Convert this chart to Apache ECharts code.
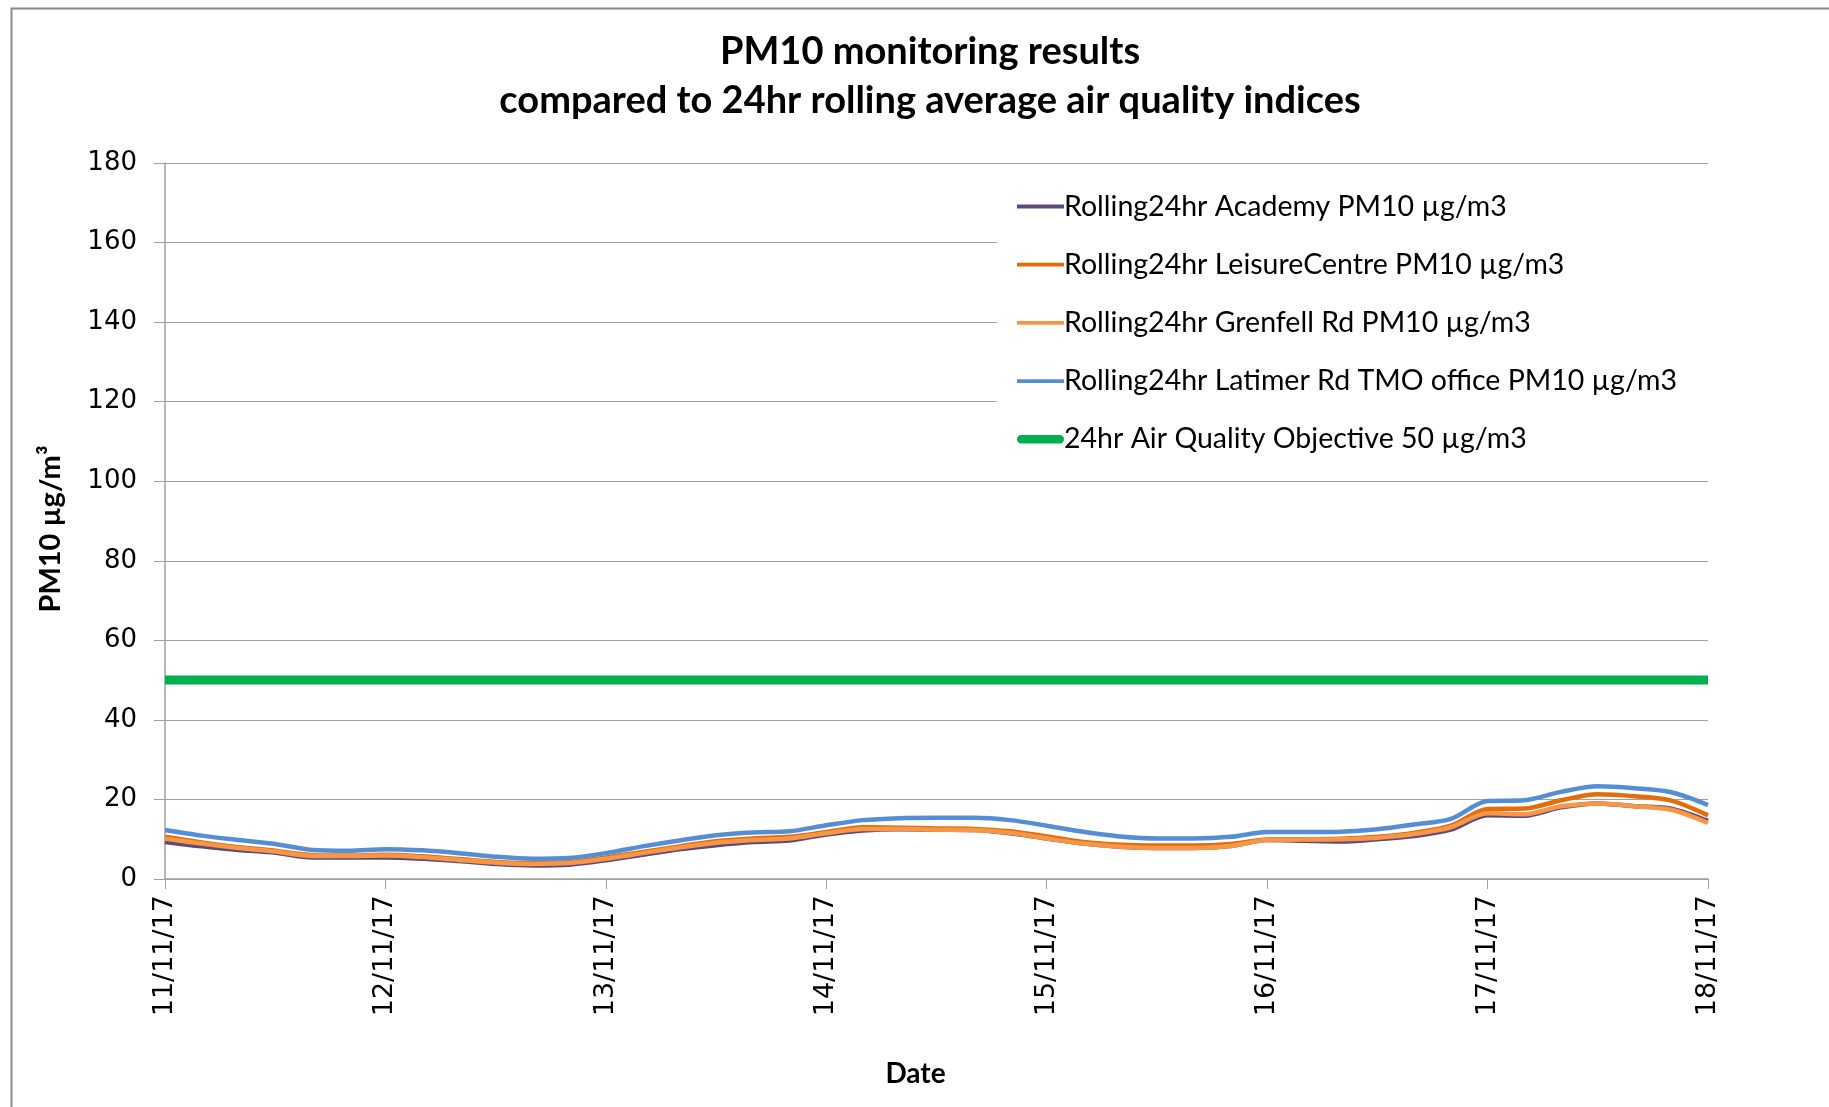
<!DOCTYPE html>
<html>
<head>
<meta charset="utf-8">
<script src="https://cdn.jsdelivr.net/npm/echarts@6/dist/echarts.min.js"></script>
<style>
  html, body { margin: 0; padding: 0; background: #fff; }
  #main { width: 1829px; height: 1107px; }
</style>
</head>
<body>
<div id="main"></div>
<script>
// hours since 11/11/17 00:00, sampled every 4 hours
var hours = [0, 4, 8, 12, 16, 20, 24, 28, 32, 36, 40, 44, 48, 52, 56, 60, 64, 68, 72, 76, 80, 84,
  88, 92, 96, 100, 104, 108, 112, 116, 120, 124, 128, 132, 136, 140, 144, 148, 152, 156, 160, 164, 168];
var dateLabels = ["11/11/17", "12/11/17", "13/11/17", "14/11/17", "15/11/17", "16/11/17", "17/11/17", "18/11/17"];
var yTicks = [0, 20, 40, 60, 80, 100, 120, 140, 160, 180];

var academy = [9.3, 8.2, 7.3, 6.6, 5.4, 5.4, 5.4, 5.1, 4.5, 3.8, 3.4, 3.6, 4.7, 6.1, 7.5, 8.5, 9.3, 9.7, 11.2, 12.2, 12.5, 12.4,
  12.3, 11.5, 10.2, 8.9, 8.1, 7.8, 7.8, 8.3, 9.8, 9.6, 9.4, 10.0, 10.8, 12.4, 16.0, 15.9, 18.0, 19.0, 18.3, 17.7, 14.6];
var leisure = [10.6, 9.2, 8.0, 7.1, 6.0, 5.9, 6.1, 5.7, 5.0, 4.3, 4.0, 4.2, 5.4, 6.8, 8.2, 9.5, 10.2, 10.6, 11.8, 13.0, 12.9, 12.7,
  12.6, 12.0, 10.7, 9.3, 8.6, 8.4, 8.4, 8.8, 9.9, 10.0, 10.1, 10.6, 11.6, 13.4, 17.6, 17.7, 19.8, 21.3, 20.8, 19.7, 16.0];
var grenfell = [10.2, 8.9, 7.8, 6.9, 5.8, 5.8, 5.9, 5.5, 4.8, 4.1, 3.8, 4.0, 5.1, 6.5, 7.9, 9.1, 9.8, 10.2, 11.5, 12.6, 12.6, 12.4,
  12.3, 11.6, 10.2, 8.9, 8.1, 7.8, 7.8, 8.3, 9.8, 9.9, 10.0, 10.4, 11.3, 13.0, 16.5, 16.3, 18.3, 19.0, 18.3, 17.4, 14.1];
var latimer = [12.3, 10.9, 9.8, 8.8, 7.3, 7.1, 7.5, 7.2, 6.5, 5.6, 5.1, 5.3, 6.5, 8.2, 9.7, 11.0, 11.7, 12.0, 13.5, 14.8, 15.3, 15.4,
  15.4, 14.8, 13.4, 11.9, 10.7, 10.2, 10.2, 10.6, 11.8, 11.8, 11.9, 12.5, 13.7, 15.1, 19.6, 19.8, 21.9, 23.3, 22.8, 21.8, 18.6];
var objective = [50, 50];
var objectiveHours = [0, 168];

var names = [
  "Rolling24hr Academy PM10 µg/m3",
  "Rolling24hr LeisureCentre PM10 µg/m3",
  "Rolling24hr Grenfell Rd PM10 µg/m3",
  "Rolling24hr Latimer Rd TMO office PM10 µg/m3",
  "24hr Air Quality Objective 50 µg/m3"
];

function pairs(xs, ys) {
  return xs.map(function (x, i) { return [x, ys[i]]; });
}

var chart = echarts.init(document.getElementById("main"));
var lineSeries = function (name, data, color, width) {
  return {
    name: name,
    type: "line",
    data: data,
    symbol: "none",
    smooth: 0.3,
    lineStyle: { color: color, width: width },
    itemStyle: { color: color },
    z: 2
  };
};

// thin and thick bar shapes for the legend keys
var thinKey = "path://M0,0 L100,0 L100,8 L0,8 Z";
var thickKey = "path://M9,0 L91,0 A9,9 0 0 1 91,18 L9,18 A9,9 0 0 1 9,0 Z";

var option = {
  backgroundColor: "#fff",
  animation: false,
  title: {
    text: "PM10 monitoring results\ncompared to 24hr rolling average air quality indices",
    left: 925,
    top: 22,
    textAlign: "center",
    textStyle: { fontFamily: "Lato", fontWeight: "bold", fontSize: 38, lineHeight: 49, color: "#000" }
  },
  legend: {
    orient: "vertical",
    left: 997,
    top: 174,
    padding: [18, 40, 18, 20],
    backgroundColor: "#fff",
    itemWidth: 47,
    itemHeight: 14,
    itemGap: 29.2,
    textStyle: { fontFamily: "Lato", fontSize: 28.5, lineHeight: 24, color: "#000", padding: [0, 0, 0, -5] },
    data: [
      { name: names[0], icon: thinKey },
      { name: names[1], icon: thinKey },
      { name: names[2], icon: thinKey },
      { name: names[3], icon: thinKey },
      { name: names[4], icon: thickKey }
    ]
  },
  grid: { left: 165, top: 163, width: 1543, height: 716 },
  xAxis: {
    type: "value",
    min: 0,
    max: 168,
    interval: 24,
    name: "Date",
    nameLocation: "middle",
    nameGap: 181,
    nameTextStyle: { fontFamily: "Lato", fontWeight: "bold", fontSize: 28, color: "#000", padding: [0, 42, 0, 0] },
    axisLine: { lineStyle: { color: "#a0a0a0", width: 1.5 } },
    axisTick: { show: true, length: 10, lineStyle: { color: "#a0a0a0" } },
    splitLine: { show: false },
    axisLabel: {
      rotate: 90,
      margin: 16,
      fontFamily: "DejaVu Sans",
      fontSize: 27,
      color: "#000",
      formatter: function (v) { return dateLabels[Math.round(v / 24)]; }
    }
  },
  yAxis: {
    type: "value",
    min: yTicks[0],
    max: yTicks[yTicks.length - 1],
    interval: yTicks[1] - yTicks[0],
    name: "PM10 µg/m³",
    nameLocation: "middle",
    nameRotate: 90,
    nameGap: 100,
    nameTextStyle: { fontFamily: "Lato", fontWeight: "bold", fontSize: 29, color: "#000", padding: [0, 16, 0, 0] },
    axisLine: { show: true, lineStyle: { color: "#a0a0a0", width: 1.5 } },
    axisTick: { show: true, length: 11, lineStyle: { color: "#a0a0a0" } },
    splitLine: { lineStyle: { color: "#a0a0a0", width: 1.2 } },
    axisLabel: { margin: 28, fontFamily: "DejaVu Sans", fontSize: 26, color: "#000" }
  },
  graphic: [{
    type: "rect",
    left: 9,
    top: 6,
    shape: { width: 1900, height: 1200 },
    style: { fill: "none", stroke: "#888", lineWidth: 2 },
    silent: true
  }],
  series: [
    lineSeries(names[0], pairs(hours, academy), "#604A7B", 4.5),
    lineSeries(names[1], pairs(hours, leisure), "#E46C0A", 4.5),
    lineSeries(names[2], pairs(hours, grenfell), "#F79646", 4.5),
    lineSeries(names[3], pairs(hours, latimer), "#558ED5", 4.5),
    {
      name: names[4],
      type: "line",
      data: pairs(objectiveHours, objective),
      symbol: "none",
      lineStyle: { color: "#00B050", width: 9 },
      itemStyle: { color: "#00B050" },
      z: 1
    }
  ]
};
chart.setOption(option);
</script>
</body>
</html>
